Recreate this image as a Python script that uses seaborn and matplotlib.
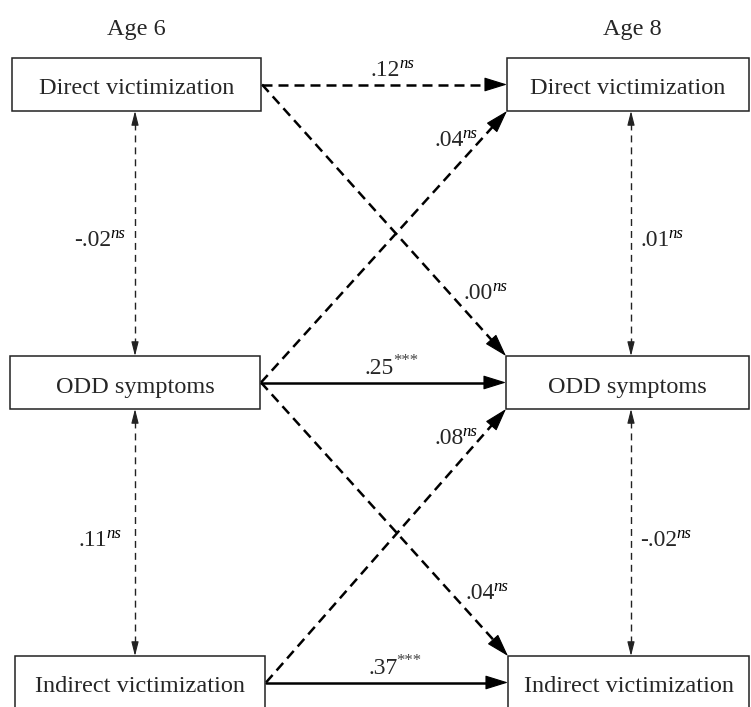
import matplotlib
matplotlib.use("Agg")
import matplotlib.pyplot as plt
import numpy as np
import pandas as pd
import seaborn as sns
from matplotlib.patches import Rectangle

# ---- data ----
ages = ["Age 6", "Age 8"]
constructs = ["Direct victimization", "ODD symptoms", "Indirect victimization"]

# paths age 6 -> age 8 (index into constructs)
path_from = [0, 0, 1, 1, 1, 2, 2]
path_to = [0, 1, 0, 1, 2, 1, 2]
path_coef = [".12", ".00", ".04", ".25", ".04", ".08", ".37"]
path_sig = ["ns", "ns", "ns", "***", "ns", "ns", "***"]

# within-time correlations (upper pair, lower pair)
cov_age6 = ["-.02", ".11"]
cov_age6_sig = ["ns", "ns"]
cov_age8 = [".01", "-.02"]
cov_age8_sig = ["ns", "ns"]

# ---- layout (pixels, y down) ----
W, H = 751, 707
left_x0 = [12, 10, 15]
left_x1 = [261, 260, 265]
right_x0 = [507, 506, 508]
right_x1 = [749, 749, 749]
box_top = [58, 356, 656]
box_h = 53
cov_x = [135, 631]
age_x = [136, 632]

sns.set_theme(style="white")
plt.rcParams["font.family"] = ["Liberation Serif", "DejaVu Serif"]

fig = plt.figure(figsize=(W / 100, H / 100), dpi=100)
ax = fig.add_axes([0, 0, 1, 1])
renderer = fig.canvas.get_renderer()

cy = [t + box_h / 2 for t in box_top]


def head(tip, base, hl, hw, color="black"):
    ax.annotate("", xy=tip, xytext=base,
                arrowprops=dict(arrowstyle=f"-|>,head_length={hl},head_width={hw}",
                                color=color, lw=0.8, shrinkA=0, shrinkB=0,
                                mutation_scale=1))


def label(x, y, coef, sig, ha="center"):
    main = ax.text(0, y, coef, fontsize=17, va="baseline", ha="left", zorder=5)
    sup = ax.text(0, y - 8, sig, fontsize=12, va="baseline", ha="left", zorder=5,
                  fontstyle="italic" if sig == "ns" else "normal",
                  color="black" if sig == "ns" else "#444444")
    wm = main.get_window_extent(renderer).width
    ws = sup.get_window_extent(renderer).width
    total = wm + ws - 1
    x0 = {"left": x, "center": x - total / 2, "right": x - total}[ha]
    main.set_x(x0)
    sup.set_x(x0 + wm - 1)


# boxes + text
for col, (x0s, x1s) in enumerate([(left_x0, left_x1), (right_x0, right_x1)]):
    for r, name in enumerate(constructs):
        ax.add_patch(Rectangle((x0s[r], box_top[r]), x1s[r] - x0s[r], box_h,
                               facecolor="white", edgecolor="#222222", lw=1.1, zorder=3))
        ax.text((x0s[r] + x1s[r]) / 2, cy[r] + 10, name, fontsize=17.5,
                ha="center", va="baseline", zorder=4)
    ax.text(age_x[col], 35, ages[col], fontsize=17.5, ha="center", va="baseline")

# cross-lagged paths
HL, HW = 14.5, 4.5
rows = []
heads = []
for i, (a, b) in enumerate(zip(path_from, path_to)):
    start = np.array([left_x1[a] + 1, cy[a]])
    if b == a:
        end = np.array([right_x0[b], cy[b]])
    elif b > a:
        end = np.array([right_x0[b], box_top[b]])
    else:
        end = np.array([right_x0[b], box_top[b] + box_h])
    u = (end - start) / np.linalg.norm(end - start)
    base = end - u * HL * 100 / 72
    kind = "sig" if path_sig[i] != "ns" else "ns"
    rows += [dict(x=start[0], y=start[1], path=i, kind=kind),
             dict(x=base[0], y=base[1], path=i, kind=kind)]
    heads.append((end, base))

    # label placement
    if b == a:
        label((start[0] + end[0]) / 2 + 8, cy[a] - 9, path_coef[i], path_sig[i], "center")
    elif b > a:
        ly = end[1] - 57
        lx = start[0] + (ly - start[1]) / (end[1] - start[1]) * (end[0] - start[0])
        label(lx + 9, ly, path_coef[i], path_sig[i], "left")
    else:
        ly = end[1] + 35
        lx = start[0] + (ly - start[1]) / (end[1] - start[1]) * (end[0] - start[0])
        label(lx + 2, ly, path_coef[i], path_sig[i], "right")

cross = pd.DataFrame(rows)
sns.lineplot(data=cross, x="x", y="y", units="path", estimator=None, sort=False,
             style="kind", dashes={"ns": (4.0, 2.4), "sig": ""}, color="black",
             lw=1.8, legend=False, ax=ax)
for end, base in heads:
    head(tuple(end), tuple(base), HL, HW)

# within-time correlations
VHL, VHW = 8.6, 2.2
vrows = []
vheads = []
for col, (vals, sigs) in enumerate([(cov_age6, cov_age6_sig), (cov_age8, cov_age8_sig)]):
    x = cov_x[col]
    for k in range(2):
        y0 = box_top[k] + box_h
        y1 = box_top[k + 1]
        off = VHL * 100 / 72
        vrows += [dict(x=x, y=y0 + off, seg=f"{col}{k}", kind="ns"),
                  dict(x=x, y=y1 - off, seg=f"{col}{k}", kind="ns")]
        vheads += [((x, y0), (x, y0 + off)), ((x, y1), (x, y1 - off))]
        mid = (y0 + y1) / 2 + 13
        if col == 0:
            label(x - 35, mid, vals[k], sigs[k], "center")
        else:
            label(x + 9, mid, vals[k], sigs[k], "left")

cov = pd.DataFrame(vrows)
sns.lineplot(data=cov, x="x", y="y", units="seg", estimator=None, sort=False,
             style="kind", dashes={"ns": (5, 3.6)}, color="#222222",
             lw=1.0, legend=False, ax=ax)
for tip, base in vheads:
    head(tip, base, VHL, VHW, color="#222222")

ax.set_xlim(0, W)
ax.set_ylim(H, 0)
ax.axis("off")

fig.savefig("out.png", dpi=100, facecolor="white")
